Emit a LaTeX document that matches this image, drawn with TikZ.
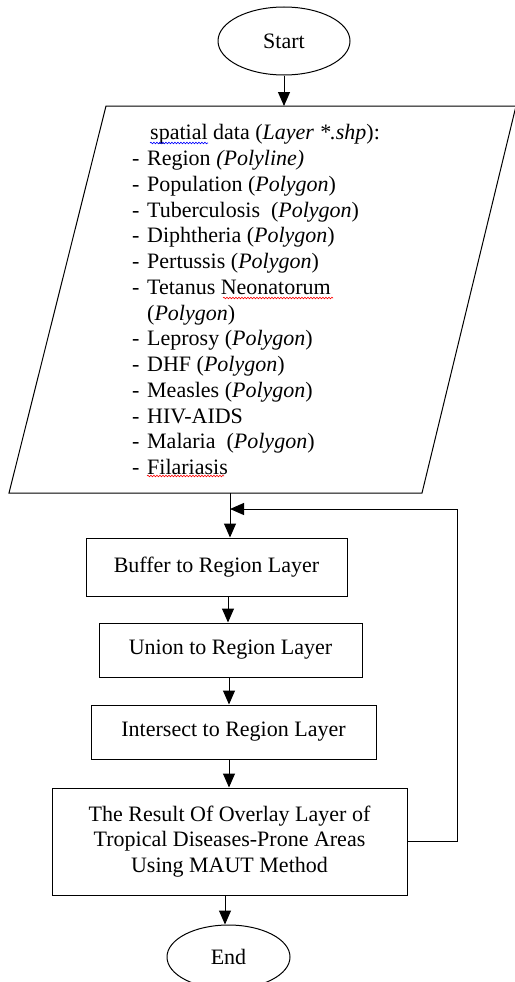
\documentclass[tikz,border=0pt]{standalone}
\usepackage{fontspec}
\setmainfont{Liberation Serif}
\usetikzlibrary{shapes.geometric,arrows.meta,decorations.pathmorphing}
\newcommand\itmdash{\makebox[15pt][l]{-}}
\begin{document}
\begin{tikzpicture}[x=1pt,y=-1pt,
  every node/.style={font=\fontsize{22}{25.6}\selectfont},
  lw/.style={line width=1pt},
  term/.style={ellipse,draw,lw,inner sep=0pt},
  proc/.style={rectangle,draw,lw,inner sep=0pt,align=center},
  arr/.style={lw,-{Triangle[length=14pt,width=12pt]}},
  wavy/.style={line width=0.6pt,decorate,decoration={snake,segment length=3pt,amplitude=0.8pt}}]
\useasboundingbox (0,0) rectangle (514,982);
% terminals
\node[term,minimum width=132pt,minimum height=68pt] (start) at (284,41) {Start};
% data parallelogram
\coordinate (ptl) at (106,106);
\coordinate (ptr) at (516,106);
\coordinate (pbr) at (422,493);
\coordinate (pbl) at (9,493);
\draw[lw] (ptl) -- (ptr) -- (pbr) -- (pbl) -- cycle;
\coordinate (datain) at (284,106);
\coordinate (dataout) at (230,493);
\node[anchor=north west,inner sep=0pt,align=left,font=\fontsize{22}{25.75}\selectfont] (datatext) at (132,124.5) {%
\hspace*{18pt}spatial data (\textit{Layer *.shp}):\\
\itmdash Region \textit{(Polyline)}\\
\itmdash Population (\textit{Polygon})\\
\itmdash Tuberculosis\ \ (\textit{Polygon})\\
\itmdash Diphtheria (\textit{Polygon})\\
\itmdash Pertussis (\textit{Polygon})\\
\itmdash Tetanus Neonatorum\\
\hspace*{15pt}(\textit{Polygon})\\
\itmdash Leprosy (\textit{Polygon})\\
\itmdash DHF (\textit{Polygon})\\
\itmdash Measles\ (\textit{Polygon})\\
\itmdash HIV-AIDS\\
\itmdash Malaria\ \ (\textit{Polygon})\\
\itmdash Filariasis};
% spell-check underlines
\draw[wavy,blue] (150,143) -- (208,143);
\draw[wavy,red] (223,298) -- (333,298);
\draw[wavy,red] (147,476) -- (224,476);
% process boxes
\node[proc,minimum width=261pt,minimum height=58pt] (buffer) at (216.5,567) {Buffer to Region Layer};
\node[proc,minimum width=263pt,minimum height=54pt] (union) at (230.5,650) {Union to Region Layer};
\node[proc,minimum width=285pt,minimum height=54pt] (inter) at (233.5,732) {Intersect to Region Layer};
\node[proc,minimum width=355pt,minimum height=107pt] (result) at (229.5,841.5) {The Result Of Overlay Layer of\\Tropical\ Diseases-Prone\ Areas\\Using MAUT Method};
\node[term,minimum width=123pt,minimum height=64pt] (end) at (228.5,957) {End};
% connectors
\draw[arr] (start.south) -- (datain);
\draw[arr] (dataout) -- (dataout |- buffer.north);
\draw[arr] (buffer.south -| 228,0) -- (union.north -| 228,0);
\draw[arr] (union.south -| 229,0) -- (inter.north -| 229,0);
\draw[arr] (inter.south -| 229,0) -- (result.north -| 229,0);
\draw[arr] (result.south -| 225,0) -- (end.north -| 225,0);
\coordinate (fbcorner) at (457,509);
\draw[arr] (result.east) -| (fbcorner) -- (dataout |- fbcorner);
\end{tikzpicture}
\end{document}
